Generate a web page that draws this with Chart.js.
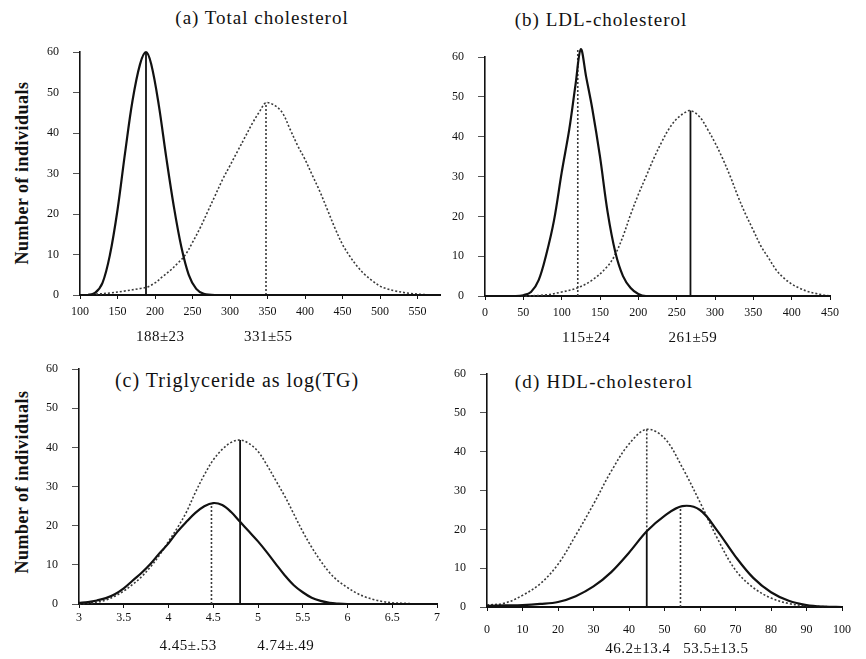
<!DOCTYPE html>
<html lang="en">
<head>
<meta charset="UTF-8">
<title>Cholesterol distributions</title>
<script src="https://cdn.jsdelivr.net/npm/chart.js"></script>
<style>
    body { margin: 0; background: #fff; }
    #page {
        position: relative;
        width: 866px;
        height: 659px;
        overflow: hidden;
        font-family: "Liberation Serif", "DejaVu Serif", serif;
        color: #111;
    }
    .box { position: absolute; }
    .title {
        position: absolute;
        font-size: 19px;
        letter-spacing: 1px;
        white-space: nowrap;
        transform: translate(-50%, -50%);
    }
    .ytitle {
        position: absolute;
        font-size: 18px;
        font-weight: bold;
        letter-spacing: 0.5px;
        white-space: nowrap;
        transform: translate(-50%, -50%) rotate(-90deg);
    }
</style>
</head>
<body>
<div id="page">
    <div class="title" style="left:262px; top:18px;">(a) Total cholesterol</div>
    <div class="title" style="left:601px; top:20px;">(b) LDL-cholesterol</div>
    <div class="title" style="left:237px; top:380px; font-size:20px; letter-spacing:1px;">(c) Triglyceride as log(TG)</div>
    <div class="title" style="left:604px; top:382px; letter-spacing:1.2px;">(d) HDL-cholesterol</div>
    <div class="ytitle" style="left:22px; top:173px;">Number of individuals</div>
    <div class="ytitle" style="left:22px; top:482px;">Number of individuals</div>

    <div class="box" id="boxA"><canvas id="chartA"></canvas></div>
    <div class="box" id="boxB"><canvas id="chartB"></canvas></div>
    <div class="box" id="boxC"><canvas id="chartC"></canvas></div>
    <div class="box" id="boxD"><canvas id="chartD"></canvas></div>
</div>

<script>
    // ---------- (a) total cholesterol ----------
    const aSolidX = [100, 110, 120, 130, 140, 150, 160, 170, 180, 188, 195, 205, 215, 225, 235, 245, 255, 265, 280, 580];
    const aSolidY = [0, 0, 0.5, 3, 10, 21, 35, 48, 57, 60, 57, 47, 34, 22, 12, 5, 1.5, 0.3, 0, 0];
    const aDotX = [100, 120, 140, 160, 180, 190, 200, 210, 220, 230, 240, 250, 260, 270, 280, 290, 300, 310, 320, 330,
                   340, 348, 360, 370, 380, 390, 400, 410, 420, 430, 440, 450, 460, 470, 480, 490, 500, 510, 520, 540, 560, 580];
    const aDotY = [0, 0.2, 0.5, 1, 1.6, 2, 3, 4.5, 6, 7.8, 9.8, 13, 16.5, 20.5, 24.5, 28.5, 32, 35.5, 39, 42.5,
                   45.5, 47.5, 46.8, 45, 41, 37, 33.5, 29.5, 25.5, 21, 16.5, 12.5, 9.5, 7, 5, 3.5, 2.2, 1.5, 1, 0.4, 0.1, 0];
    const aMeans = [188, 348];
    const aPeaks = [60, 47.5];
    const aLabels = ['188±23', '331±55'];
    const aLabelX = [207, 351];

    // ---------- (b) LDL ----------
    const bSolidX = [0, 40, 50, 60, 70, 80, 90, 100, 110, 118, 125, 132, 140, 150, 160, 170, 180, 190, 200, 210, 450];
    const bSolidY = [0, 0, 0.2, 1, 4, 10.5, 19, 31, 42, 53, 62, 55, 47, 35, 21, 11, 5, 2, 0.5, 0, 0];
    const bDotX = [0, 50, 80, 100, 120, 140, 160, 170, 180, 190, 200, 210, 220, 230, 240, 250, 260, 268, 280, 290,
                   300, 310, 320, 330, 340, 350, 360, 370, 380, 390, 400, 410, 420, 430, 440, 450];
    const bDotY = [0, 0, 0.3, 1, 2, 4, 7.5, 10.5, 15, 20.5, 25.5, 30, 34.5, 38.5, 42, 44.5, 46, 46.6, 45, 42,
                   38.5, 34.5, 30, 25, 20.5, 16.5, 12.5, 9.5, 6.5, 4.5, 3, 2, 1.2, 0.7, 0.3, 0];
    const bMeans = [121, 268];
    const bPeaks = [62, 46.6];
    const bLabels = ['115±24', '261±59'];
    const bLabelX = [132, 271];

    // ---------- (c) triglyceride, log scale values ----------
    const cX = [3.0, 3.1, 3.2, 3.3, 3.4, 3.5, 3.6, 3.7, 3.8, 3.9, 4.0, 4.1, 4.2, 4.3, 4.4, 4.5, 4.6, 4.7, 4.8, 4.9,
                5.0, 5.1, 5.2, 5.3, 5.4, 5.5, 5.6, 5.7, 5.8, 5.9, 6.0, 6.1, 6.2, 6.3, 6.4, 6.5, 6.6, 6.7, 6.8, 6.9, 7.0];
    const cSolidY = [0.3, 0.5, 0.9, 1.5, 2.5, 4, 6, 8, 10.3, 13, 15.5, 18.5, 21, 23.3, 25, 25.8, 25.3, 23.5, 21, 18.5,
                     16, 13.2, 10.2, 7.3, 4.8, 3, 1.6, 0.8, 0.3, 0.1, 0, 0, 0, 0, 0, 0, 0, 0, 0, 0, 0];
    const cDotY = [0, 0.2, 0.5, 1, 2, 3.3, 5, 7, 9.5, 12.5, 16, 19.5, 23.5, 28.5, 33, 36.8, 39.5, 41.3, 41.9, 41,
                   39, 35.5, 31.5, 27.5, 23, 18.5, 14.5, 11, 8, 5.8, 4.2, 2.8, 1.8, 1.1, 0.6, 0.3, 0.2, 0.1, 0, 0, 0];
    const cMeans = [4.48, 4.8];
    const cPeaks = [25.8, 41.9];
    const cLabels = ['4.45±.53', '4.74±.49'];
    const cLabelX = [4.22, 5.31];

    // ---------- (d) HDL ----------
    const dX = [0, 5, 10, 15, 20, 25, 30, 35, 40, 45, 50, 55, 60, 65, 70, 75, 80, 85, 90, 95, 100];
    const dSolidY = [0.3, 0.4, 0.5, 0.8, 1.3, 2.8, 5.3, 9, 14, 19.5, 23.5, 26, 25, 19.5, 13, 7.5, 3.8, 1.6, 0.5, 0.1, 0];
    const dDotY = [0.5, 1, 3, 6, 11, 18.5, 26.5, 35, 42, 45.8, 43.5, 36, 27, 17.5, 9.5, 5, 2.3, 0.9, 0.3, 0.1, 0];
    const dMeans = [45, 54.5];
    const dPeaks = [45.8, 26];
    const dCross = 19.5;
    const dLabels = ['46.2±13.4', '53.5±13.5'];
    const dLabelX = [42.5, 64.5];

    const yTicks = [0, 10, 20, 30, 40, 50, 60];

    // ---------- helpers ----------
    const Y_W = 50, PAD_T = 14, PAD_R = 16, X_H = 54;
    const INK = '#111';
    const DOT = '#3a3a3a';

    function pts(xs, ys) {
        return xs.map((x, i) => ({ x: x, y: ys[i] }));
    }

    function curve(data, dotted) {
        return {
            data: data,
            showLine: true,
            pointRadius: 0,
            borderColor: dotted ? DOT : INK,
            borderWidth: dotted ? 1.6 : 2.2,
            borderDash: dotted ? [2, 2] : [],
            tension: 0.35,
            clip: false
        };
    }

    function vline(x, y0, y1, dotted) {
        return {
            data: [{ x: x, y: y0 }, { x: x, y: y1 }],
            showLine: true,
            pointRadius: 0,
            borderColor: dotted ? DOT : INK,
            borderWidth: dotted ? 1.6 : 1.8,
            borderDash: dotted ? [2, 2] : [],
            clip: false
        };
    }

    function makePanel(boxId, canvasId, area, xOpt, datasets, labels, labelX, tickPad) {
        const w = (area.r - area.l) + Y_W + PAD_R;
        const h = (area.b - area.t) + PAD_T + X_H;
        const box = document.getElementById(boxId);
        box.style.left = (area.l - Y_W) + 'px';
        box.style.top = (area.t - PAD_T) + 'px';
        const cv = document.getElementById(canvasId);
        cv.width = w;
        cv.height = h;

        const meanText = {
            id: 'meanText',
            afterDraw(chart) {
                const ctx = chart.ctx;
                const xs = chart.scales.x;
                ctx.save();
                ctx.fillStyle = INK;
                ctx.font = '15px "Liberation Serif", serif';
                ctx.letterSpacing = '0.5px';
                ctx.textAlign = 'center';
                ctx.textBaseline = 'middle';
                labels.forEach((t, i) => {
                    ctx.fillText(t, xs.getPixelForValue(labelX[i]), chart.chartArea.bottom + 42);
                });
                ctx.restore();
            }
        };

        return new Chart(cv, {
            type: 'scatter',
            data: { datasets: datasets },
            options: {
                responsive: false,
                animation: false,
                layout: { padding: { top: PAD_T, right: PAD_R, left: 0, bottom: 0 } },
                plugins: { legend: { display: false }, tooltip: { enabled: false } },
                scales: {
                    x: {
                        type: 'linear',
                        min: xOpt.min,
                        max: xOpt.max,
                        afterFit(s) { s.height = X_H; },
                        border: { display: true, color: INK, width: 2 },
                        grid: { drawOnChartArea: false, drawTicks: true, tickLength: 4, color: INK },
                        ticks: {
                            stepSize: xOpt.step,
                            includeBounds: false,
                            autoSkip: false,
                            maxRotation: 0,
                            padding: tickPad,
                            color: '#111',
                            font: { family: '"Liberation Serif", serif', size: 12 },
                            callback: v => String(v)
                        }
                    },
                    y: {
                        type: 'linear',
                        min: 0,
                        max: 60,
                        afterFit(s) { s.width = Y_W; },
                        afterBuildTicks(s) { s.ticks = yTicks.map(v => ({ value: v })); },
                        border: { display: true, color: INK, width: 1.6 },
                        grid: { drawOnChartArea: false, drawTicks: true, tickLength: 7, color: '#555' },
                        ticks: {
                            padding: 14,
                            color: '#111',
                            font: { family: '"Liberation Serif", serif', size: 12 }
                        }
                    }
                }
            },
            plugins: [meanText]
        });
    }

    // ---------- build the four panels ----------
    makePanel('boxA', 'chartA', { l: 80, r: 440, t: 45, b: 295 },
        { min: 100, max: 580, step: 50 },
        [
            curve(pts(aSolidX, aSolidY), false),
            curve(pts(aDotX, aDotY), true),
            vline(aMeans[0], 0, aPeaks[0], false),
            vline(aMeans[1], 0, aPeaks[1], true)
        ],
        aLabels, aLabelX, 6);

    makePanel('boxB', 'chartB', { l: 485, r: 830, t: 50, b: 296 },
        { min: 0, max: 450, step: 50 },
        [
            curve(pts(bSolidX, bSolidY), false),
            curve(pts(bDotX, bDotY), true),
            vline(bMeans[0], 0, bPeaks[0], true),
            vline(bMeans[1], 0, bPeaks[1], false)
        ],
        bLabels, bLabelX, 6);

    makePanel('boxC', 'chartC', { l: 79, r: 437, t: 362, b: 604 },
        { min: 3, max: 7, step: 0.5 },
        [
            curve(pts(cX, cSolidY), false),
            curve(pts(cX, cDotY), true),
            vline(cMeans[0], 0, cPeaks[0], true),
            vline(cMeans[1], 0, cPeaks[1], false)
        ],
        cLabels, cLabelX, 3);

    makePanel('boxD', 'chartD', { l: 487, r: 847, t: 367, b: 607 },
        { min: 0, max: 100, step: 10 },
        [
            curve(pts(dX, dSolidY), false),
            curve(pts(dX, dDotY), true),
            vline(dMeans[0], 0, dCross, false),
            vline(dMeans[0], dCross, dPeaks[0], true),
            vline(dMeans[1], 0, dPeaks[1], true)
        ],
        dLabels, dLabelX, 12);
</script>
</body>
</html>
